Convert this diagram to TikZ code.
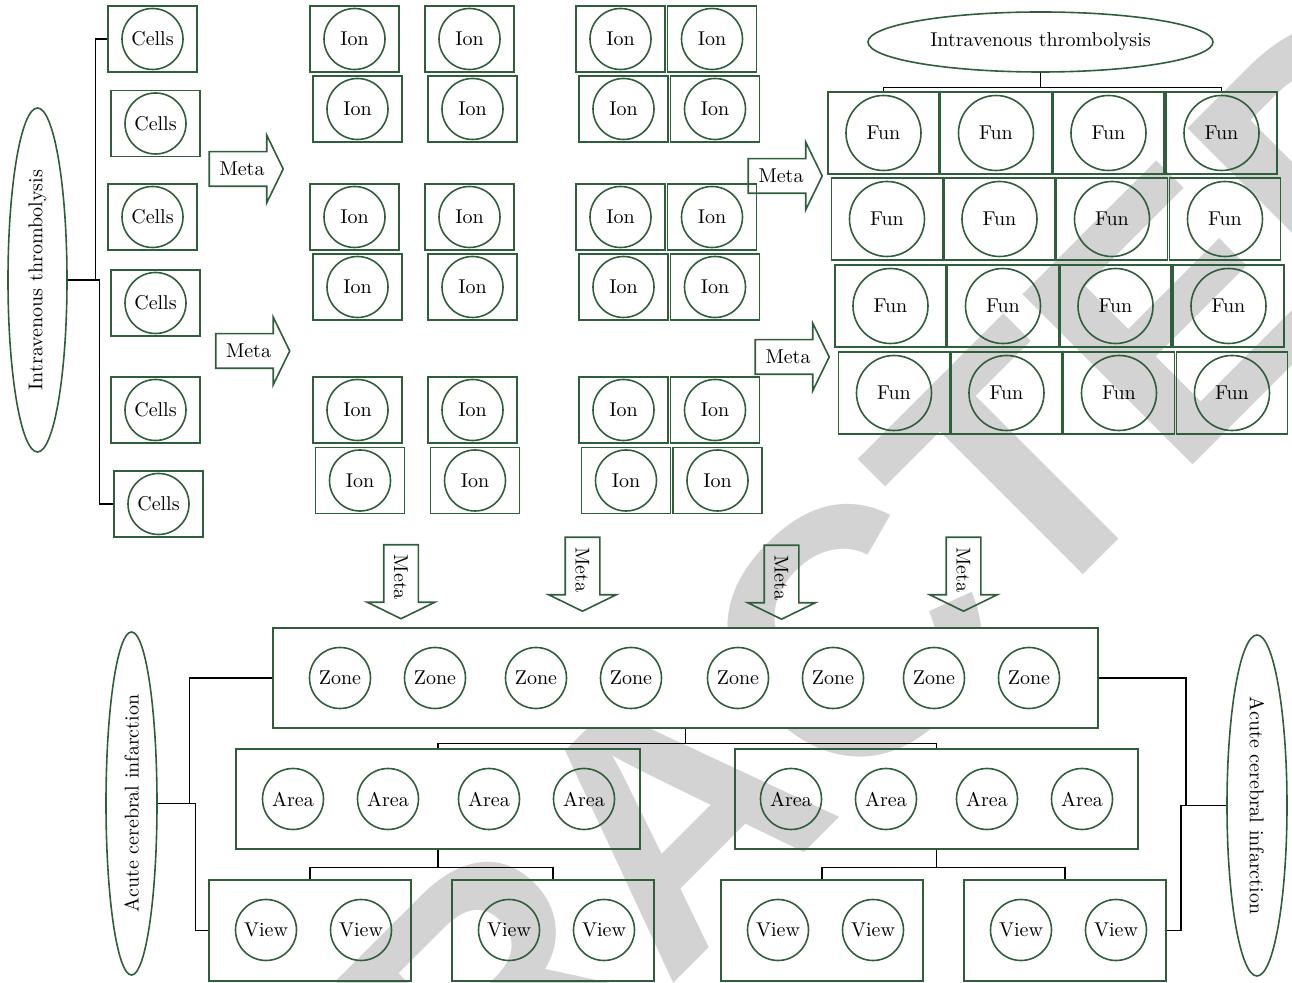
\documentclass[tikz,border=0pt]{standalone}
\usepackage{fontspec}
\usetikzlibrary{positioning, shapes.geometric, shapes.arrows}
\newfontfamily\stampfont{Liberation Sans}
\definecolor{boxgreen}{HTML}{2F5E3B}
\definecolor{stampgray}{HTML}{D3D3D3}

\begin{document}
\begin{tikzpicture}[x=0.5pt, y=-0.5pt,
  unit/.style={rectangle, draw=boxgreen, line width=0.8pt,
               minimum width=44.5pt, minimum height=33pt},
  ring/.style={circle, draw=boxgreen, line width=0.8pt,
               minimum size=30.5pt, inner sep=0pt},
  bigring/.style={ring, minimum size=37.5pt},
  funbox/.style={unit, minimum width=55.5pt, minimum height=41pt},
  groupbox/.style={unit, minimum height=50pt},
  oval/.style={ellipse, draw=boxgreen, line width=0.8pt, inner sep=0pt},
  meta/.style={single arrow, draw=boxgreen, line width=0.8pt,
               single arrow tip angle=128, single arrow head extend=8.25pt,
               minimum height=37pt, text height=7pt, text depth=0pt,
               inner ysep=4.75pt, inner xsep=2pt},
  link/.style={draw=black, line width=0.7pt},
  stamp/.style={text=stampgray, rotate=45,
                font=\stampfont\bfseries\fontsize{175}{175}\selectfont}
]
  \useasboundingbox (0,0) rectangle (1292,983);

  % watermark behind everything
  \node[stamp] (stamp) at (672,815) {RETRACTED};

  % left column of cells
  \node[oval, minimum width=172pt, minimum height=29.5pt, rotate=90] (ivt) at (37.5,280) {Intravenous thrombolysis};
  \foreach \x/\y [count=\i] in {152.5/39, 155.5/123.5, 152.5/217, 155.5/303, 155.5/410, 158.5/504} {
    \node[unit] (cell\i) at (\x,\y) {};
    \node[ring] (cellr\i) at (cell\i) {Cells};
  }
  \draw[link] (cell1.west) -- ++(-12,0) |- (ivt.south);
  \draw[link] (cell6.west) -- ++(-14,0) |- (ivt.south);

  % ion blocks
  \foreach \y/\dx [count=\r] in {39/0, 109/3, 217/0, 287/3, 410/3, 480.5/5.5} {
    \foreach \x [count=\c] in {354.5, 469.5, 620.5, 712} {
      \node[unit] (ion\r\c) at (\x+\dx,\y) {};
      \node[ring] (ionr\r\c) at (ion\r\c) {Ion};
    }
  }

  % fun grid
  \node[oval, minimum width=172.5pt, minimum height=30pt] (ivtop) at (1040.5,42) {Intravenous thrombolysis};
  \foreach \y/\dx [count=\r] in {133/0, 219/3.5, 306/7, 393/10.5} {
    \foreach \x [count=\c] in {883.5, 996, 1108.5, 1221.5} {
      \node[funbox] (fun\r\c) at (\x+\dx,\y) {};
      \node[bigring] (funr\r\c) at (fun\r\c) {Fun};
    }
  }
  \draw[link] (ivtop.south) -- ++(0,15) coordinate (topfork) -| (fun11.north);
  \draw[link] (topfork) -| (fun14.north);

  % meta arrows
  \node[meta] (m1) at (242,169) {Meta};
  \node[meta] (m2) at (248.5,351) {Meta};
  \node[meta] (m3) at (781,176) {Meta};
  \node[meta] (m4) at (788,357) {Meta};
  \foreach \x/\y [count=\i] in {401/577.5, 582.5/570, 781.5/578, 963.5/570}
    \node[meta, rotate=-90] (md\i) at (\x,\y) {Meta};

  % zones, areas, views
  \node[groupbox, fill=white, minimum width=412.5pt] (zone) at (685.5,678) {};
  \foreach \x [count=\i] in {340,435,536,631,738,833,934,1029}
    \node[ring] (zoner\i) at (\x,678) {Zone};

  \node[groupbox, minimum width=202pt] (arealeft) at (438,799) {};
  \node[groupbox, minimum width=201.5pt] (arearight) at (936.5,799) {};
  \foreach \x [count=\i] in {293,388,489,584,791,886,987,1082}
    \node[ring] (arear\i) at (\x,799) {Area};

  \foreach \x [count=\i] in {310,553,822,1065}
    \node[groupbox, minimum width=101pt, minimum height=50.5pt] (view\i) at (\x,930.5) {};
  \foreach \x [count=\i] in {266,361,509,604,778,873,1021,1116}
    \node[ring] (viewr\i) at (\x,930) {View};

  \draw[link] (zone.south) -- ++(0,15) coordinate (zonefork) -| (arealeft.north);
  \draw[link] (zonefork) -| (arearight.north);
  \draw[link] (arealeft.south) -- ++(0,18) coordinate (leftfork) -| (view1.north);
  \draw[link] (leftfork) -| (view2.north);
  \draw[link] (arearight.south) -- ++(0,18) coordinate (rightfork) -| (view3.north);
  \draw[link] (rightfork) -| (view4.north);

  % side ovals
  \node[oval, minimum width=171.5pt, minimum height=25.5pt, rotate=90] (acil) at (131.5,803.5) {Acute cerebral infarction};
  \node[oval, minimum width=170.5pt, minimum height=30pt, rotate=-90] (acir) at (1257,805.5) {Acute cerebral infarction};
  \draw[link] (zone.west) -- ++(-83,0) |- (acil.south);
  \draw[link] (view1.west) -- ++(-13,0) |- (acil.south);
  \draw[link] (zone.east) -- ++(87,0) |- (acir.south);
  \draw[link] (view4.east) -- ++(14,0) |- (acir.south);
\end{tikzpicture}
\end{document}
